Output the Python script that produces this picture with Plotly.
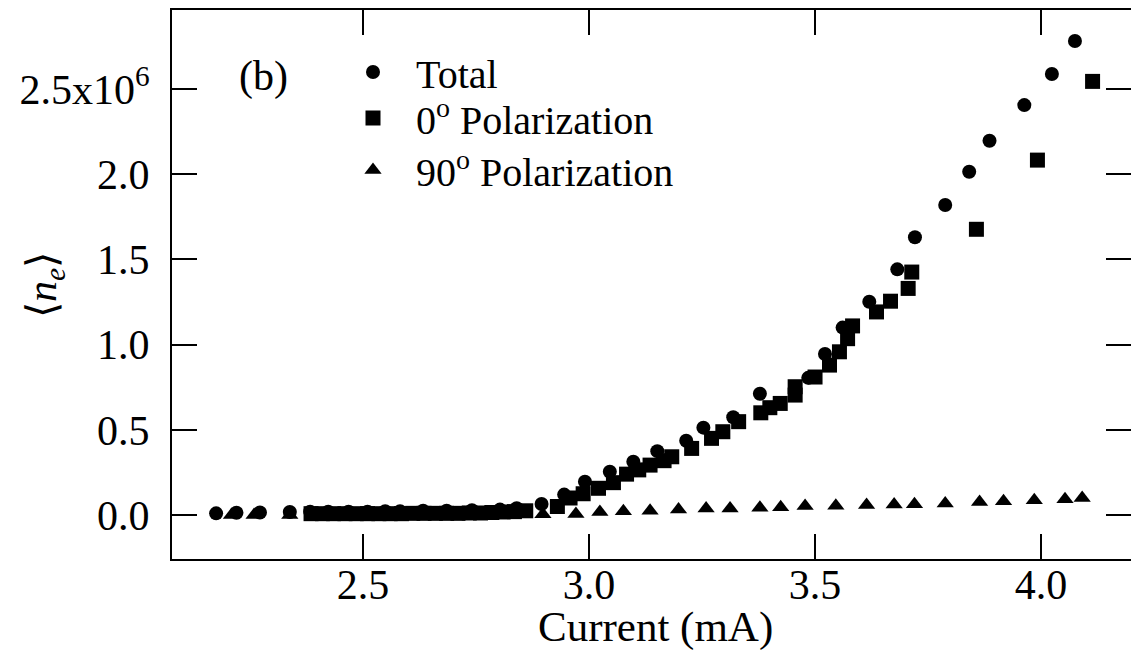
import numpy as np
import plotly.graph_objects as go

# Mean electron number <n_e> (units of 1e6) versus drive current (mA)

# Total
tot_x = [2.175, 2.220, 2.272, 2.338, 2.383, 2.423, 2.468, 2.510, 2.549, 2.582,
         2.633, 2.685, 2.741, 2.803, 2.840, 2.895, 2.945, 2.991, 3.046, 3.098,
         3.151, 3.215, 3.253, 3.319, 3.378, 3.485, 3.522, 3.561, 3.620, 3.682,
         3.721, 3.788, 3.841, 3.886, 3.963, 4.024, 4.075]
tot_y = [0.010, 0.013, 0.015, 0.018, 0.020, 0.020, 0.020, 0.020, 0.022, 0.022,
         0.025, 0.025, 0.028, 0.032, 0.040, 0.065, 0.120, 0.195, 0.254, 0.313,
         0.375, 0.436, 0.513, 0.574, 0.712, 0.805, 0.945, 1.100, 1.252, 1.442,
         1.630, 1.820, 2.015, 2.197, 2.406, 2.588, 2.782]

# 0 degree polarization
p0_x = [2.385, 2.410, 2.435, 2.460, 2.485, 2.510, 2.535, 2.560, 2.585, 2.610,
        2.635, 2.660, 2.685, 2.710, 2.735, 2.760, 2.785, 2.810, 2.835, 2.860,
        2.930, 2.958, 2.987, 3.021, 3.054, 3.083, 3.110, 3.135, 3.166, 3.183,
        3.227, 3.271, 3.296, 3.331, 3.380, 3.400, 3.423, 3.456, 3.456, 3.500,
        3.532, 3.554, 3.572, 3.583, 3.636, 3.667, 3.706, 3.714, 3.857, 3.992,
        4.114]
p0_y = [0.008, 0.008, 0.008, 0.008, 0.008, 0.008, 0.008, 0.008, 0.008, 0.010,
        0.010, 0.010, 0.010, 0.010, 0.012, 0.012, 0.015, 0.018, 0.020, 0.025,
        0.050, 0.100, 0.125, 0.157, 0.190, 0.240, 0.265, 0.293, 0.319, 0.342,
        0.391, 0.450, 0.489, 0.548, 0.600, 0.630, 0.655, 0.704, 0.753, 0.810,
        0.880, 0.958, 1.035, 1.110, 1.192, 1.255, 1.330, 1.426, 1.677, 2.083,
        2.545]

# 90 degree polarization
p90_x = [2.209, 2.259, 2.338, 2.400, 2.450, 2.500, 2.550, 2.600, 2.650, 2.700,
         2.750, 2.800, 2.850, 2.898, 2.971, 3.024, 3.076, 3.135, 3.198, 3.259,
         3.312, 3.378, 3.424, 3.478, 3.546, 3.614, 3.675, 3.720, 3.788, 3.864,
         3.917, 3.985, 4.053, 4.091]
p90_y = [0.000, 0.000, 0.000, 0.000, 0.000, 0.002, 0.002, 0.002, 0.003, 0.003,
         0.003, 0.003, 0.004, 0.004, 0.006, 0.018, 0.022, 0.025, 0.032, 0.038,
         0.039, 0.043, 0.045, 0.053, 0.055, 0.059, 0.062, 0.063, 0.068, 0.077,
         0.081, 0.087, 0.093, 0.100]

y_ticks = [0.0, 0.5, 1.0, 1.5, 2.0, 2.5]
y_ticktext = ["0.0", "0.5", "1.0", "1.5", "2.0", "2.5x10<sup>6</sup>"]
x_ticks = [2.5, 3.0, 3.5, 4.0]
x_ticktext = ["2.5", "3.0", "3.5", "4.0"]

SCALE = 1e6
SERIF = "Liberation Serif, Times New Roman, serif"

# plot-area geometry in pixels
W, H = 1131, 666
L, R, T, B = 172, 0, 10, 107
PW, PH = W - L - R, H - T - B


def px_x(p):
    return (p - L) / PW


def px_y(p):
    return (H - B - p) / PH


fig = go.Figure()
fig.add_trace(go.Scatter(
    x=tot_x, y=np.array(tot_y) * SCALE, mode="markers", name="Total",
    legend="legend",
    marker=dict(symbol="circle", size=14, color="black", line=dict(width=0))))
fig.add_trace(go.Scatter(
    x=p0_x, y=np.array(p0_y) * SCALE, mode="markers",
    name="0<sup>o</sup> Polarization", legend="legend2",
    marker=dict(symbol="square", size=15, color="black", line=dict(width=0))))
fig.add_trace(go.Scatter(
    x=p90_x, y=np.array(p90_y) * SCALE, mode="markers",
    name="90<sup>o</sup> Polarization", legend="legend3",
    marker=dict(symbol="triangle-up", size=15, color="black", line=dict(width=0))))

axis_common = dict(
    showline=True, linecolor="black", linewidth=2, automargin=False,
    mirror="ticks", ticks="inside", ticklen=25, tickwidth=2, tickcolor="black",
    showgrid=False, zeroline=False,
)

fig.update_xaxes(
    range=[2.0774, 4.199], tickvals=x_ticks, ticktext=x_ticktext,
    tickfont=dict(family=SERIF, size=42, color="black"),
    ticklabelstandoff=-12,
    **axis_common)
fig.update_yaxes(
    range=[-0.258 * SCALE, 2.964 * SCALE], tickvals=[v * SCALE for v in y_ticks],
    ticktext=y_ticktext,
    tickfont=dict(family=SERIF, size=42, color="black"),
    ticklabelstandoff=12,
    **axis_common)

# x-axis label
fig.add_annotation(
    text="Current (mA)", xref="paper", yref="paper",
    x=px_x(655), y=px_y(627), xanchor="center", yanchor="middle",
    showarrow=False, font=dict(family=SERIF, size=43, color="black"))

# y-axis label
fig.add_annotation(
    text="\u27e8<i>n</i><sub><i>e</i></sub>\u27e9", xref="paper", yref="paper",
    x=px_x(45), y=px_y(285), xanchor="center", yanchor="middle", textangle=-90,
    showarrow=False, font=dict(family=SERIF, size=42, color="black"))

# panel tag
fig.add_annotation(
    text="(b)", xref="paper", yref="paper",
    x=px_x(263), y=px_y(77), xanchor="center", yanchor="middle",
    showarrow=False, font=dict(family=SERIF, size=42, color="black"))

legend_common = dict(
    xanchor="left", yanchor="middle", bgcolor="rgba(0,0,0,0)", borderwidth=0,
    itemwidth=76, font=dict(family=SERIF, size=40, color="black"),
)

fig.update_layout(
    width=W, height=H,
    margin=dict(l=L, r=R, t=T, b=B),
    paper_bgcolor="white", plot_bgcolor="white",
    showlegend=True,
    legend=dict(x=px_x(330), y=px_y(72), **legend_common),
    legend2=dict(x=px_x(330), y=px_y(118), **legend_common),
    legend3=dict(x=px_x(330), y=px_y(170), **legend_common),
)

fig.write_html("out.html")
